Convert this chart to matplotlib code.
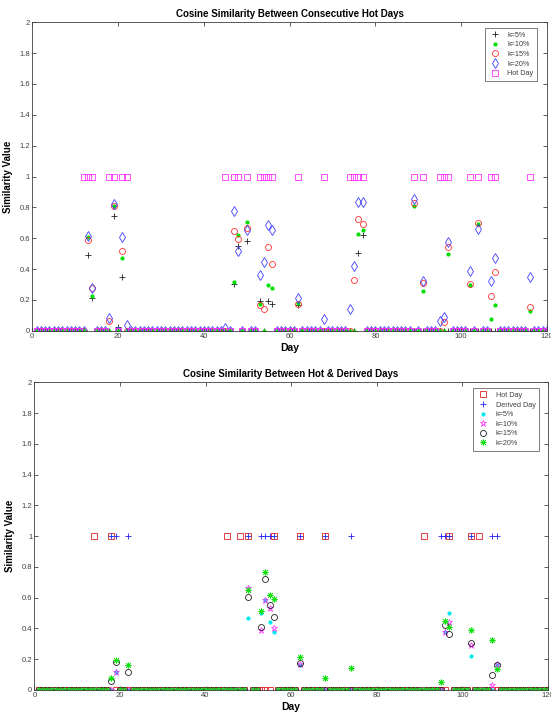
import numpy as np
import matplotlib
matplotlib.use("Agg")
import matplotlib.pyplot as plt

plt.rcParams['font.family'] = ['Liberation Sans', 'DejaVu Sans']

N_DAYS = 120
days_all = np.arange(1, N_DAYS + 1)

# ---------------- Top panel data ----------------
top_hot_days = [12, 13, 14, 18, 19, 21, 22, 45, 47, 48, 50, 53, 54, 55, 56, 62, 68,
                74, 75, 76, 77, 89, 91, 95, 96, 97, 102, 104, 107, 108, 116]

top_k5_days = [13, 14, 19, 20, 21, 47, 48, 50, 53, 55, 56, 62, 76, 77]
top_k5_vals = [0.49, 0.21, 0.745, 0.025, 0.345, 0.30, 0.55, 0.58, 0.195, 0.19, 0.17,
               0.165, 0.505, 0.62]

top_k10_days = [13, 14, 19, 21, 47, 48, 50, 53, 55, 56, 62, 76, 77, 89, 91, 97, 102,
                104, 107, 108, 116]
top_k10_vals = [0.61, 0.225, 0.81, 0.47, 0.315, 0.62, 0.705, 0.17, 0.295, 0.28, 0.18,
                0.625, 0.655, 0.81, 0.255, 0.50, 0.295, 0.69, 0.075, 0.165, 0.125]

top_k15_days = [13, 14, 18, 19, 21, 47, 48, 50, 53, 54, 55, 56, 62, 75, 76, 77, 89,
                91, 96, 97, 102, 104, 107, 108, 116]
top_k15_vals = [0.585, 0.275, 0.06, 0.81, 0.515, 0.645, 0.595, 0.665, 0.165, 0.14,
                0.545, 0.43, 0.17, 0.33, 0.725, 0.69, 0.83, 0.31, 0.055, 0.545, 0.305,
                0.70, 0.225, 0.38, 0.155]

top_k20_days = [13, 14, 18, 19, 21, 22, 45, 47, 48, 50, 53, 54, 55, 56, 62, 68, 74,
                75, 76, 77, 89, 91, 95, 96, 97, 102, 104, 107, 108, 116]
top_k20_vals = [0.615, 0.28, 0.08, 0.82, 0.605, 0.035, 0.015, 0.775, 0.52, 0.65, 0.36,
                0.445, 0.685, 0.65, 0.215, 0.075, 0.14, 0.42, 0.835, 0.835, 0.855, 0.32,
                0.06, 0.09, 0.575, 0.39, 0.66, 0.325, 0.47, 0.345]

# ---------------- Bottom panel data ----------------
bot_hot_days = [14, 18, 45, 48, 50, 56, 62, 68, 91, 97, 102, 104]
bot_derived_days = [18, 19, 22, 50, 53, 54, 55, 56, 62, 68, 74, 95, 96, 97, 102, 107, 108]

bot_k5_days = [19, 50, 53, 54, 55, 56, 62, 96, 97, 102, 108]
bot_k5_vals = [0.115, 0.47, 0.50, 0.585, 0.445, 0.375, 0.16, 0.38, 0.50, 0.22, 0.165]

bot_k10_days = [19, 50, 53, 54, 55, 56, 62, 96, 97, 102, 107, 108]
bot_k10_vals = [0.115, 0.66, 0.39, 0.585, 0.535, 0.405, 0.17, 0.38, 0.445, 0.295,
                0.035, 0.17]

bot_k15_days = [18, 19, 22, 50, 53, 54, 55, 56, 62, 96, 97, 102, 107, 108]
bot_k15_vals = [0.06, 0.185, 0.12, 0.605, 0.41, 0.72, 0.555, 0.475, 0.175, 0.42,
                0.365, 0.305, 0.097, 0.165]

bot_k20_days = [18, 19, 22, 50, 53, 54, 55, 56, 62, 68, 74, 95, 96, 97, 102, 107, 108]
bot_k20_vals = [0.075, 0.195, 0.165, 0.65, 0.515, 0.765, 0.62, 0.59, 0.215, 0.075,
                0.14, 0.055, 0.45, 0.41, 0.39, 0.325, 0.135]

x_ticks = [0, 20, 40, 60, 80, 100, 120]
y_ticks = [0, 0.2, 0.4, 0.6, 0.8, 1, 1.2, 1.4, 1.6, 1.8, 2]
y_ticklabels = ['0', '0.2', '0.4', '0.6', '0.8', '1', '1.2', '1.4', '1.6', '1.8', '2']


def full_series(d, v):
    y = np.zeros(N_DAYS)
    y[np.array(d) - 1] = v
    return y


def indicator(d):
    y = np.zeros(N_DAYS)
    y[np.array(d) - 1] = 1.0
    return y


def style_axes(ax, title):
    ax.set_xlim(0, 120)
    ax.set_ylim(0, 2)
    ax.set_xticks(x_ticks)
    ax.set_yticks(y_ticks)
    ax.set_yticklabels(y_ticklabels)
    ax.tick_params(direction='in', length=3, width=0.6, top=True, right=True,
                   labelsize=5.5, labelcolor='#404040', color='#404040', pad=1.5)
    for s in ax.spines.values():
        s.set_linewidth(0.6)
        s.set_color('#404040')
    ax.set_title(title, fontsize=7, fontweight='bold', pad=4)
    ax.set_xlabel('Day', fontsize=7.5, fontweight='bold', labelpad=2)
    ax.set_ylabel('Similarity Value', fontsize=7, fontweight='bold', labelpad=5)


def style_legend(leg):
    leg.get_frame().set_edgecolor('#404040')
    leg.get_frame().set_linewidth(0.6)
    for t in leg.get_texts():
        t.set_color('#404040')


fig = plt.figure(figsize=(5.51, 7.13), dpi=100)

# ---------- Top ----------
ax1 = fig.add_axes([0.0586, 0.5362, 0.934, 0.4325])
ax1.plot(days_all, full_series(top_k5_days, top_k5_vals), ls='none', marker='+',
         ms=4.5, mew=0.6, color='#202020', label='k=5%')
ax1.plot(days_all, full_series(top_k10_days, top_k10_vals), ls='none', marker='o',
         ms=3.0, mew=0, color='#00e000', label='k=10%')
ax1.plot(days_all, full_series(top_k15_days, top_k15_vals), ls='none', marker='o',
         ms=4.3, mew=0.6, mfc='none', mec='#ff3030', label='k=15%')
ax1.plot(days_all, full_series(top_k20_days, top_k20_vals), ls='none', marker='d',
         ms=4.7, mew=0.6, mfc='none', mec='#4040ff', label='k=20%')
ax1.plot(days_all, indicator(top_hot_days), ls='none', marker='s',
         ms=3.9, mew=0.6, mfc='none', mec='#ff30ff', label='Hot Day')
style_axes(ax1, 'Cosine Similarity Between Consecutive Hot Days')
leg1 = ax1.legend(loc='upper right', bbox_to_anchor=(0.981, 0.981), fontsize=5.2,
                  frameon=True, fancybox=False, borderpad=0.5, labelspacing=0.35,
                  handlelength=1.8, handletextpad=0.8, borderaxespad=0)
style_legend(leg1)

# ---------- Bottom ----------
ax2 = fig.add_axes([0.0623, 0.0323, 0.932, 0.4315])
ax2.plot(days_all, indicator(bot_hot_days), ls='none', marker='s',
         ms=3.9, mew=0.6, mfc='none', mec='#e02020', label='Hot Day')
ax2.plot(days_all, indicator(bot_derived_days), ls='none', marker='+',
         ms=5, mew=0.6, color='#2020ff', label='Derived Day')
ax2.plot(days_all, full_series(bot_k5_days, bot_k5_vals), ls='none', marker='o',
         ms=3.0, mew=0, color='#00e8f0', label='k=5%')
ax2.plot(days_all, full_series(bot_k10_days, bot_k10_vals), ls='none', marker='*',
         ms=4.8, mew=0.5, mfc='none', mec='#ff20ff', label='k=10%')
ax2.plot(days_all, full_series(bot_k15_days, bot_k15_vals), ls='none', marker='o',
         ms=4.3, mew=0.6, mfc='none', mec='#202020', label='k=15%')
ax2.plot(days_all, full_series(bot_k20_days, bot_k20_vals), ls='none',
         marker=(8, 2, 0), ms=4.2, mew=0.6, color='#10e010', mec='#10e010',
         label='k=20%')
style_axes(ax2, 'Cosine Similarity Between Hot & Derived Days')
leg2 = ax2.legend(loc='upper right', bbox_to_anchor=(0.983, 0.9805), fontsize=5.2,
                  frameon=True, fancybox=False, borderpad=0.5, labelspacing=0.35,
                  handlelength=1.8, handletextpad=0.8, borderaxespad=0)
style_legend(leg2)

fig.savefig('out.png', dpi=100)
